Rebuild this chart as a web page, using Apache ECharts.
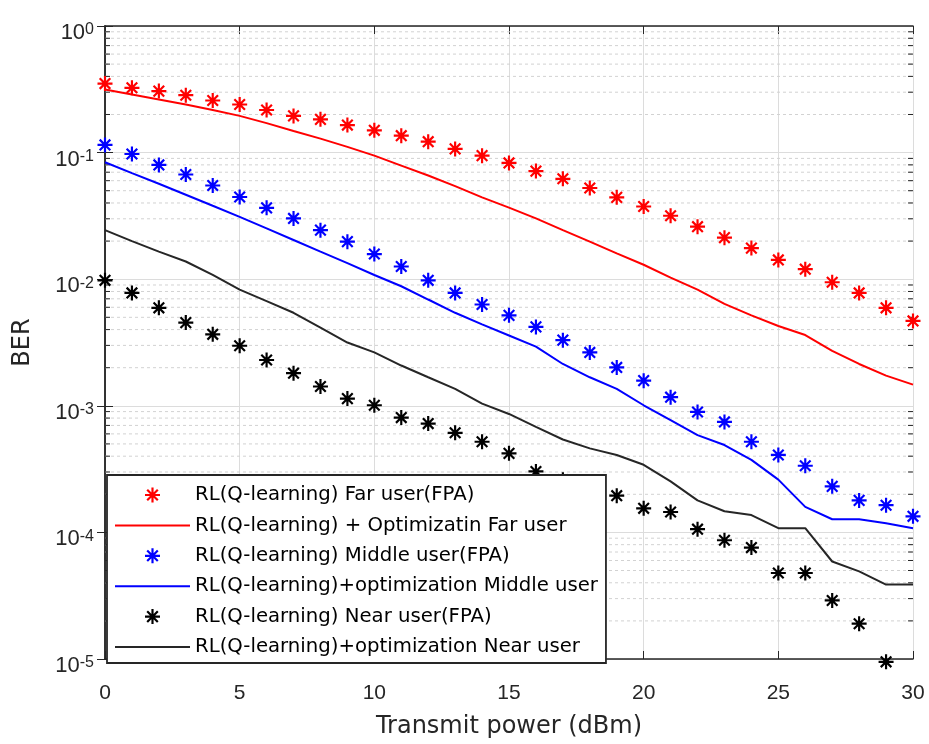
<!DOCTYPE html>
<html>
<head>
<meta charset="utf-8">
<script src="https://cdn.jsdelivr.net/npm/echarts@6/dist/echarts.min.js"></script>
<style>html,body{margin:0;padding:0;background:#fff;}#chart{width:929px;height:744px;}</style>
</head>
<body>
<div id="chart"></div>
<script>
// ---- data ----
const powerDbm = [0,1,2,3,4,5,6,7,8,9,10,11,12,13,14,15,16,17,18,19,20,21,22,23,24,25,26,27,28,29,30];

const farFPA = [0.351,0.325,0.306,0.284,0.258,0.240,0.217,0.195,0.183,0.165,0.150,0.136,0.122,0.107,0.0946,0.0829,0.0714,0.0621,0.0525,0.0443,0.0375,0.0317,0.0260,0.0213,0.0176,0.0142,0.0120,0.00946,0.00779,0.00594,0.00468];
const farOpt = [0.315,0.288,0.263,0.240,0.217,0.195,0.171,0.148,0.129,0.111,0.0946,0.0789,0.0659,0.0544,0.0443,0.0368,0.0302,0.0244,0.0198,0.0160,0.0130,0.0103,0.00827,0.00639,0.00518,0.00427,0.00362,0.00272,0.00214,0.00173,0.00147];
const midFPA = [0.115,0.0975,0.0799,0.0671,0.0550,0.0446,0.0366,0.0302,0.0244,0.0198,0.0158,0.0126,0.00980,0.00779,0.00631,0.00518,0.00420,0.00330,0.00264,0.00201,0.00158,0.00117,0.000894,0.000746,0.000520,0.000409,0.000336,0.000231,0.000179,0.000164,0.000134];
const midOpt = [0.0839,0.0688,0.0567,0.0465,0.0380,0.0311,0.0252,0.0204,0.0165,0.0134,0.0108,0.00880,0.00691,0.00543,0.00440,0.00359,0.00293,0.00214,0.00168,0.00136,0.00101,0.000770,0.000587,0.000490,0.000374,0.000261,0.000159,0.000127,0.000127,0.000118,0.000108];
const nearFPA = [0.00980,0.00779,0.00594,0.00454,0.00367,0.00298,0.00230,0.00181,0.00142,0.00114,0.00101,0.000807,0.000724,0.000612,0.000520,0.000421,0.000303,0.00026,0.00023,0.000195,0.000155,0.000145,0.000106,0.0000867,0.0000759,0.0000478,0.0000478,0.0000290,0.0000190,0.0000095,null];
const nearOpt = [0.0244,0.0200,0.0165,0.0138,0.0108,0.00827,0.00671,0.00543,0.00415,0.00316,0.00264,0.00208,0.00168,0.00136,0.00104,0.000862,0.000682,0.000542,0.000461,0.000409,0.000342,0.000253,0.000179,0.000147,0.000137,0.000108,0.000108,0.0000589,0.0000492,0.0000387,0.0000387];

const seriesNames = [
  'RL(Q-learning) Far user(FPA)',
  'RL(Q-learning) + Optimizatin Far user',
  'RL(Q-learning) Middle user(FPA)',
  'RL(Q-learning)+optimization Middle user',
  'RL(Q-learning) Near user(FPA)',
  'RL(Q-learning)+optimization Near user'
];
const seriesColors = ['#ff0000', '#ff0000', '#0000ff', '#0000ff', '#000000', '#262626'];
const xTicks = [0,5,10,15,20,25,30];
const yDecades = [1e-5,1e-4,1e-3,1e-2,1e-1,1];
const xName = 'Transmit power (dBm)';
const yName = 'BER';

// log-axis minor gridline values (2..9 × each decade)
const minorValues = [];
for (let i = 0; i < yDecades.length - 1; i++) {
  for (let m = 2; m <= 9; m++) minorValues.push(+(m * yDecades[i]).toPrecision(3));
}

// asterisk marker (8 spokes) built as filled thin bars
function asteriskPath() {
  const r = 10, w = 1.45;
  let d = '';
  [0, 45, 90, 135].forEach(a => {
    const t = a * Math.PI / 180, c = Math.cos(t), s = Math.sin(t);
    const pts = [[-r, -w], [r, -w], [r, w], [-r, w]].map(p => [(p[0] * c - p[1] * s + 10).toFixed(3), (p[0] * s + p[1] * c + 10).toFixed(3)]);
    d += 'M' + pts[0].join(' ') + 'L' + pts[1].join(' ') + 'L' + pts[2].join(' ') + 'L' + pts[3].join(' ') + 'Z';
  });
  return 'path://' + d;
}
const STAR = asteriskPath();

const pair = arr => powerDbm.map((x, i) => [x, arr[i]]);
const AX = '#262626';

const chart = echarts.init(document.getElementById('chart'), null, {renderer: 'canvas'});

function scatterSeries(name, data, color) {
  return {name, type: 'scatter', data: pair(data), symbol: STAR, symbolSize: 15, clip: false,
          itemStyle: {color: color, opacity: 1}, z: 3};
}
function lineSeries(name, data, color) {
  return {name, type: 'line', data: pair(data), symbol: 'none', showSymbol: false,
          lineStyle: {color: color, width: 2}, itemStyle: {color: color}, z: 3};
}

const option = {
  animation: false,
  backgroundColor: '#fff',
  grid: {left: 105, right: 16, top: 26, bottom: 80, containLabel: false},
  xAxis: [{
    type: 'value', min: 0, max: 30, interval: 5, position: 'bottom',
    name: xName, nameLocation: 'middle', nameGap: 56,
    nameTextStyle: {fontFamily: 'DejaVu Sans', fontSize: 24, color: AX},
    axisLine: {onZero: false, lineStyle: {color: AX, width: 1.5}},
    axisTick: {inside: true, length: 8, lineStyle: {color: AX}},
    axisLabel: {margin: 24, fontFamily: 'Liberation Sans', fontSize: 21, color: AX},
    splitLine: {show: true, lineStyle: {color: '#dcdcdc', width: 1}}
  }, {
    type: 'value', min: 0, max: 30, interval: 5, position: 'top',
    axisLine: {onZero: false, lineStyle: {color: AX, width: 1.5}},
    axisTick: {inside: true, length: 8, lineStyle: {color: AX}},
    axisLabel: {show: false}, splitLine: {show: false}
  }],
  yAxis: [{
    type: 'log', logBase: 10, min: 1e-5, max: 1, position: 'left',
    name: yName, nameLocation: 'middle', nameGap: 70, nameRotate: 90,
    nameTextStyle: {fontFamily: 'DejaVu Sans', fontSize: 24, color: AX},
    axisLine: {show: true, lineStyle: {color: AX, width: 1.5}},
    axisTick: {show: true, inside: true, length: 8, lineStyle: {color: AX}},
    splitLine: {show: true, lineStyle: {color: '#dcdcdc', width: 1}},
    minorTick: {show: false}, minorSplitLine: {show: false},
    axisLabel: {
      margin: 11, color: AX, fontFamily: 'Liberation Sans', padding: [14, 0, 0, 0],
      formatter: v => '{b|10}{s|' + Math.round(Math.log(v) / Math.LN10) + '}',
      rich: {
        b: {fontFamily: 'Liberation Sans', fontSize: 22, lineHeight: 22, color: AX, padding: [7, 0, 0, 0], verticalAlign: 'bottom'},
        s: {fontFamily: 'Liberation Sans', fontSize: 16, lineHeight: 16, color: AX, verticalAlign: 'top'}
      }
    }
  }, {
    type: 'log', logBase: 10, min: 1e-5, max: 1, position: 'right',
    axisLine: {show: true, lineStyle: {color: AX, width: 1.5}},
    axisTick: {show: true, inside: true, length: 8, lineStyle: {color: AX}},
    axisLabel: {show: false}, splitLine: {show: false}
  }],
  legend: {
    orient: 'vertical', left: 107, top: 475,
    padding: [10, 8, 6, 7], itemGap: 10.4, itemWidth: 75, itemHeight: 15,
    backgroundColor: '#fff', borderColor: AX, borderWidth: 1.8, borderRadius: 0,
    textStyle: {fontFamily: 'DejaVu Sans', fontSize: 19.7, lineHeight: 20, color: '#000'},
    data: seriesNames.map((n, i) => (i % 2 === 1
      ? {name: n, itemStyle: {opacity: 0, color: 'transparent', borderWidth: 0}, lineStyle: {color: seriesColors[i], width: 2, opacity: 1}}
      : {name: n}))
  },
  series: [
    {
      type: 'custom', coordinateSystem: 'cartesian2d', silent: true, z: 1, clip: false,
      data: minorValues.map(v => [powerDbm[0], v]),
      renderItem: function (params, api) {
        const y = api.value(1);
        const p0 = api.coord([powerDbm[0], y]);
        const p1 = api.coord([powerDbm[powerDbm.length - 1], y]);
        return {type: 'group', children: [
          {type: 'line', shape: {x1: p0[0], y1: p0[1], x2: p1[0], y2: p1[1]}, style: {stroke: '#d2d2d2', lineWidth: 1, lineDash: [3, 3]}},
          {type: 'line', shape: {x1: p0[0], y1: p0[1], x2: p0[0] + 5, y2: p0[1]}, style: {stroke: AX, lineWidth: 1}},
          {type: 'line', shape: {x1: p1[0] - 5, y1: p1[1], x2: p1[0], y2: p1[1]}, style: {stroke: AX, lineWidth: 1}}
        ]};
      }
    },
    scatterSeries(seriesNames[0], farFPA, seriesColors[0]),
    lineSeries(seriesNames[1], farOpt, seriesColors[1]),
    scatterSeries(seriesNames[2], midFPA, seriesColors[2]),
    lineSeries(seriesNames[3], midOpt, seriesColors[3]),
    scatterSeries(seriesNames[4], nearFPA, seriesColors[4]),
    lineSeries(seriesNames[5], nearOpt, seriesColors[5])
  ]
};
chart.setOption(option);
</script>
</body>
</html>
